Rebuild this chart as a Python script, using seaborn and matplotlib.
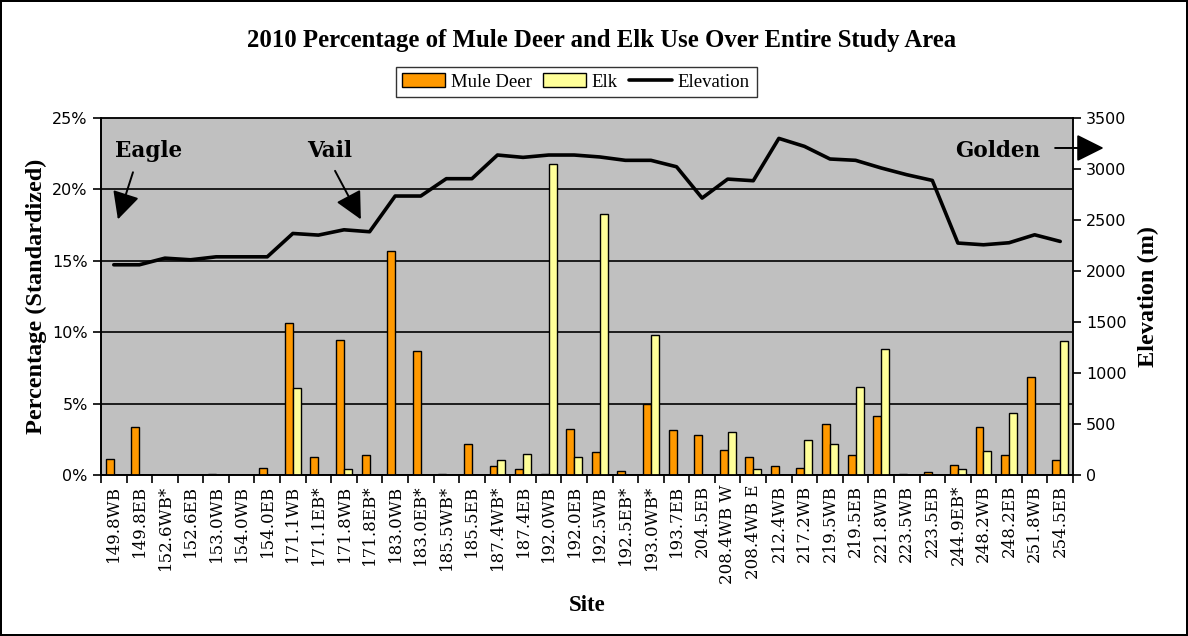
import matplotlib
matplotlib.use("Agg")
import matplotlib.pyplot as plt
import numpy as np
import pandas as pd
import seaborn as sns
from matplotlib.lines import Line2D
from matplotlib.patches import Patch
from matplotlib.ticker import FuncFormatter, FixedLocator

sites = ["149.8WB", "149.8EB", "152.6WB*", "152.6EB", "153.0WB", "154.0WB", "154.0EB",
         "171.1WB", "171.1EB*", "171.8WB", "171.8EB*", "183.0WB", "183.0EB*", "185.5WB*",
         "185.5EB", "187.4WB*", "187.4EB", "192.0WB", "192.0EB", "192.5WB", "192.5EB*",
         "193.0WB*", "193.7EB", "204.5EB", "208.4WB W", "208.4WB E", "212.4WB", "217.2WB",
         "219.5WB", "219.5EB", "221.8WB", "223.5WB", "223.5EB", "244.9EB*", "248.2WB",
         "248.2EB", "251.8WB", "254.5EB"]
mule_deer = [1.1, 3.35, 0.0, 0.0, 0.1, 0.0, 0.5,
             10.65, 1.26, 9.46, 1.38, 15.7, 8.7, 0.1,
             2.17, 0.63, 0.4, 0.1, 3.25, 1.63, 0.3,
             4.98, 3.13, 2.83, 1.73, 1.29, 0.63, 0.5,
             3.57, 1.38, 4.13, 0.1, 0.2, 0.73, 3.34,
             1.38, 6.84, 1.05]
elk = [0.0, 0.0, 0.0, 0.0, 0.0, 0.0, 0.0,
       6.08, 0.0, 0.4, 0.0, 0.0, 0.0, 0.0,
       0.0, 1.05, 1.5, 21.8, 1.29, 18.3, 0.0,
       9.79, 0.0, 0.0, 3.04, 0.4, 0.0, 2.48,
       2.17, 6.19, 8.8, 0.0, 0.0, 0.4, 1.7,
       4.34, 0.0, 9.37]
elevation = [2061, 2061, 2126, 2110, 2139, 2139, 2139,
             2368, 2352, 2404, 2385, 2735, 2735, 2905,
             2905, 3137, 3114, 3137, 3137, 3118, 3085,
             3085, 3022, 2715, 2901, 2885, 3300, 3222,
             3098, 3085, 3010, 2944, 2888, 2274, 2257,
             2277, 2355, 2290]
pct_ticks = [0, 5, 10, 15, 20, 25]
elev_ticks = [0, 500, 1000, 1500, 2000, 2500, 3000, 3500]

sns.set_theme(style="ticks")
plt.rcParams["font.family"] = ["DejaVu Serif"]
plt.rcParams.update({"text.color": "black", "axes.labelcolor": "black",
                     "xtick.color": "black", "ytick.color": "black",
                     "axes.edgecolor": "black"})

W, H = 1188, 636
fig = plt.figure(figsize=(W / 100, H / 100), dpi=100, edgecolor="black", linewidth=1.5)
ax = fig.add_axes([101 / W, 1 - 475 / H, (1073 - 101) / W, (475 - 118) / H])
ax.set_facecolor("#C0C0C0")

df = pd.DataFrame({
    "Site": sites * 2,
    "Pct": mule_deer + elk,
    "Species": ["Mule Deer"] * len(sites) + ["Elk"] * len(sites),
})
colors = {"Mule Deer": "#FF9900", "Elk": "#FFFF99"}
sns.barplot(data=df, x="Site", y="Pct", hue="Species", order=sites,
            hue_order=["Mule Deer", "Elk"], palette=colors, saturation=1, width=0.62,
            edgecolor="black", linewidth=1.0, ax=ax, legend=False, zorder=3)

n = len(sites)
ax.set_xlim(-0.5, n - 0.5)
ax.set_ylim(0, 25)
ax.yaxis.set_major_locator(FixedLocator(pct_ticks))
ax.yaxis.set_major_formatter(FuncFormatter(lambda v, p: f"{int(v)}%"))
ax.grid(axis="y", color="black", linewidth=1.2)
ax.grid(axis="x", visible=False)
ax.set_axisbelow(True)
ax.set_xticks(range(n))
ax.set_xticklabels(sites, rotation=90, fontsize=12, family="DejaVu Serif", color="black")
ax.xaxis.set_minor_locator(FixedLocator(np.arange(-0.5, n, 1.0)))
ax.tick_params(axis="x", which="major", length=0, pad=7)
ax.tick_params(axis="x", which="minor", length=6, width=1.2, color="black", direction="out")
ax.tick_params(axis="y", length=6, width=1.2, color="black", direction="out", labelsize=11.5,
               labelcolor="black")
for lab in ax.get_yticklabels():
    lab.set_family("DejaVu Sans")
for s in ["left", "bottom"]:
    ax.spines[s].set_color("black")
    ax.spines[s].set_linewidth(1.2)
ax.spines["top"].set_color("#808080")
ax.spines["right"].set_color("#404040")
ax.set_xlabel("Site", fontsize=16.5, fontweight="bold", family="Liberation Serif", labelpad=8,
              color="black")
ax.set_ylabel("Percentage (Standardized)", fontsize=17.5, fontweight="bold",
              family="Liberation Serif", labelpad=4, color="black")

ax2 = ax.twinx()
sns.lineplot(x=np.arange(n), y=elevation, color="black", linewidth=2.6, ax=ax2, zorder=5)
ax2.set_ylim(0, 3500)
ax2.yaxis.set_major_locator(FixedLocator(elev_ticks))
ax2.tick_params(axis="y", length=6, width=1.2, color="black", direction="out", labelsize=11.5,
                labelcolor="black")
for lab in ax2.get_yticklabels():
    lab.set_family("DejaVu Sans")
ax2.spines["right"].set_color("black")
ax2.spines["right"].set_linewidth(1.2)
ax2.set_ylabel("Elevation (m)", fontsize=17.5, fontweight="bold", family="Liberation Serif",
               labelpad=8, color="black")
ax2.grid(False)

# annotations
afont = dict(fontsize=15.5, fontweight="bold", family="DejaVu Serif", va="center", ha="left",
             color="black")
ax.text(0.05, 22.7, "Eagle", **afont, zorder=6)
ax.text(7.55, 22.7, "Vail", **afont, zorder=6)
ax.text(32.9, 22.7, "Golden", **afont, zorder=6)
arrow = dict(arrowstyle="-|>", color="black", lw=1.4, mutation_scale=42, shrinkA=0, shrinkB=0)
ax.annotate("", xy=(0.16, 17.9), xytext=(0.75, 21.2), arrowprops=arrow, zorder=6)
ax.annotate("", xy=(9.66, 17.9), xytext=(8.65, 21.3), arrowprops=arrow, zorder=6)
ax.annotate("", xy=(38.7, 22.9), xytext=(36.8, 22.9), arrowprops=arrow,
            annotation_clip=False, zorder=6).arrow_patch.set_clip_on(False)

fig.text(602 / W, 1 - 40 / H, "2010 Percentage of Mule Deer and Elk Use Over Entire Study Area",
         ha="center", va="center", fontsize=17.8, fontweight="bold", family="Liberation Serif",
         color="black")

handles = [Patch(facecolor="#FF9900", edgecolor="black", linewidth=1.0, label="Mule Deer"),
           Patch(facecolor="#FFFF99", edgecolor="black", linewidth=1.0, label="Elk"),
           Line2D([], [], color="black", linewidth=2.6, label="Elevation")]
leg = fig.legend(handles=handles, loc="center", bbox_to_anchor=(576 / W, 1 - 82 / H), ncol=3,
                 frameon=True, fancybox=False, edgecolor="black",
                 prop={"family": "Liberation Serif", "size": 13.5},
                 handlelength=2.3, handleheight=0.7, handletextpad=0.3, columnspacing=0.6,
                 borderpad=0.35, borderaxespad=0, labelcolor="black")
leg.get_frame().set_linewidth(1.0)

fig.savefig("out.png", dpi=100, edgecolor=fig.get_edgecolor())
